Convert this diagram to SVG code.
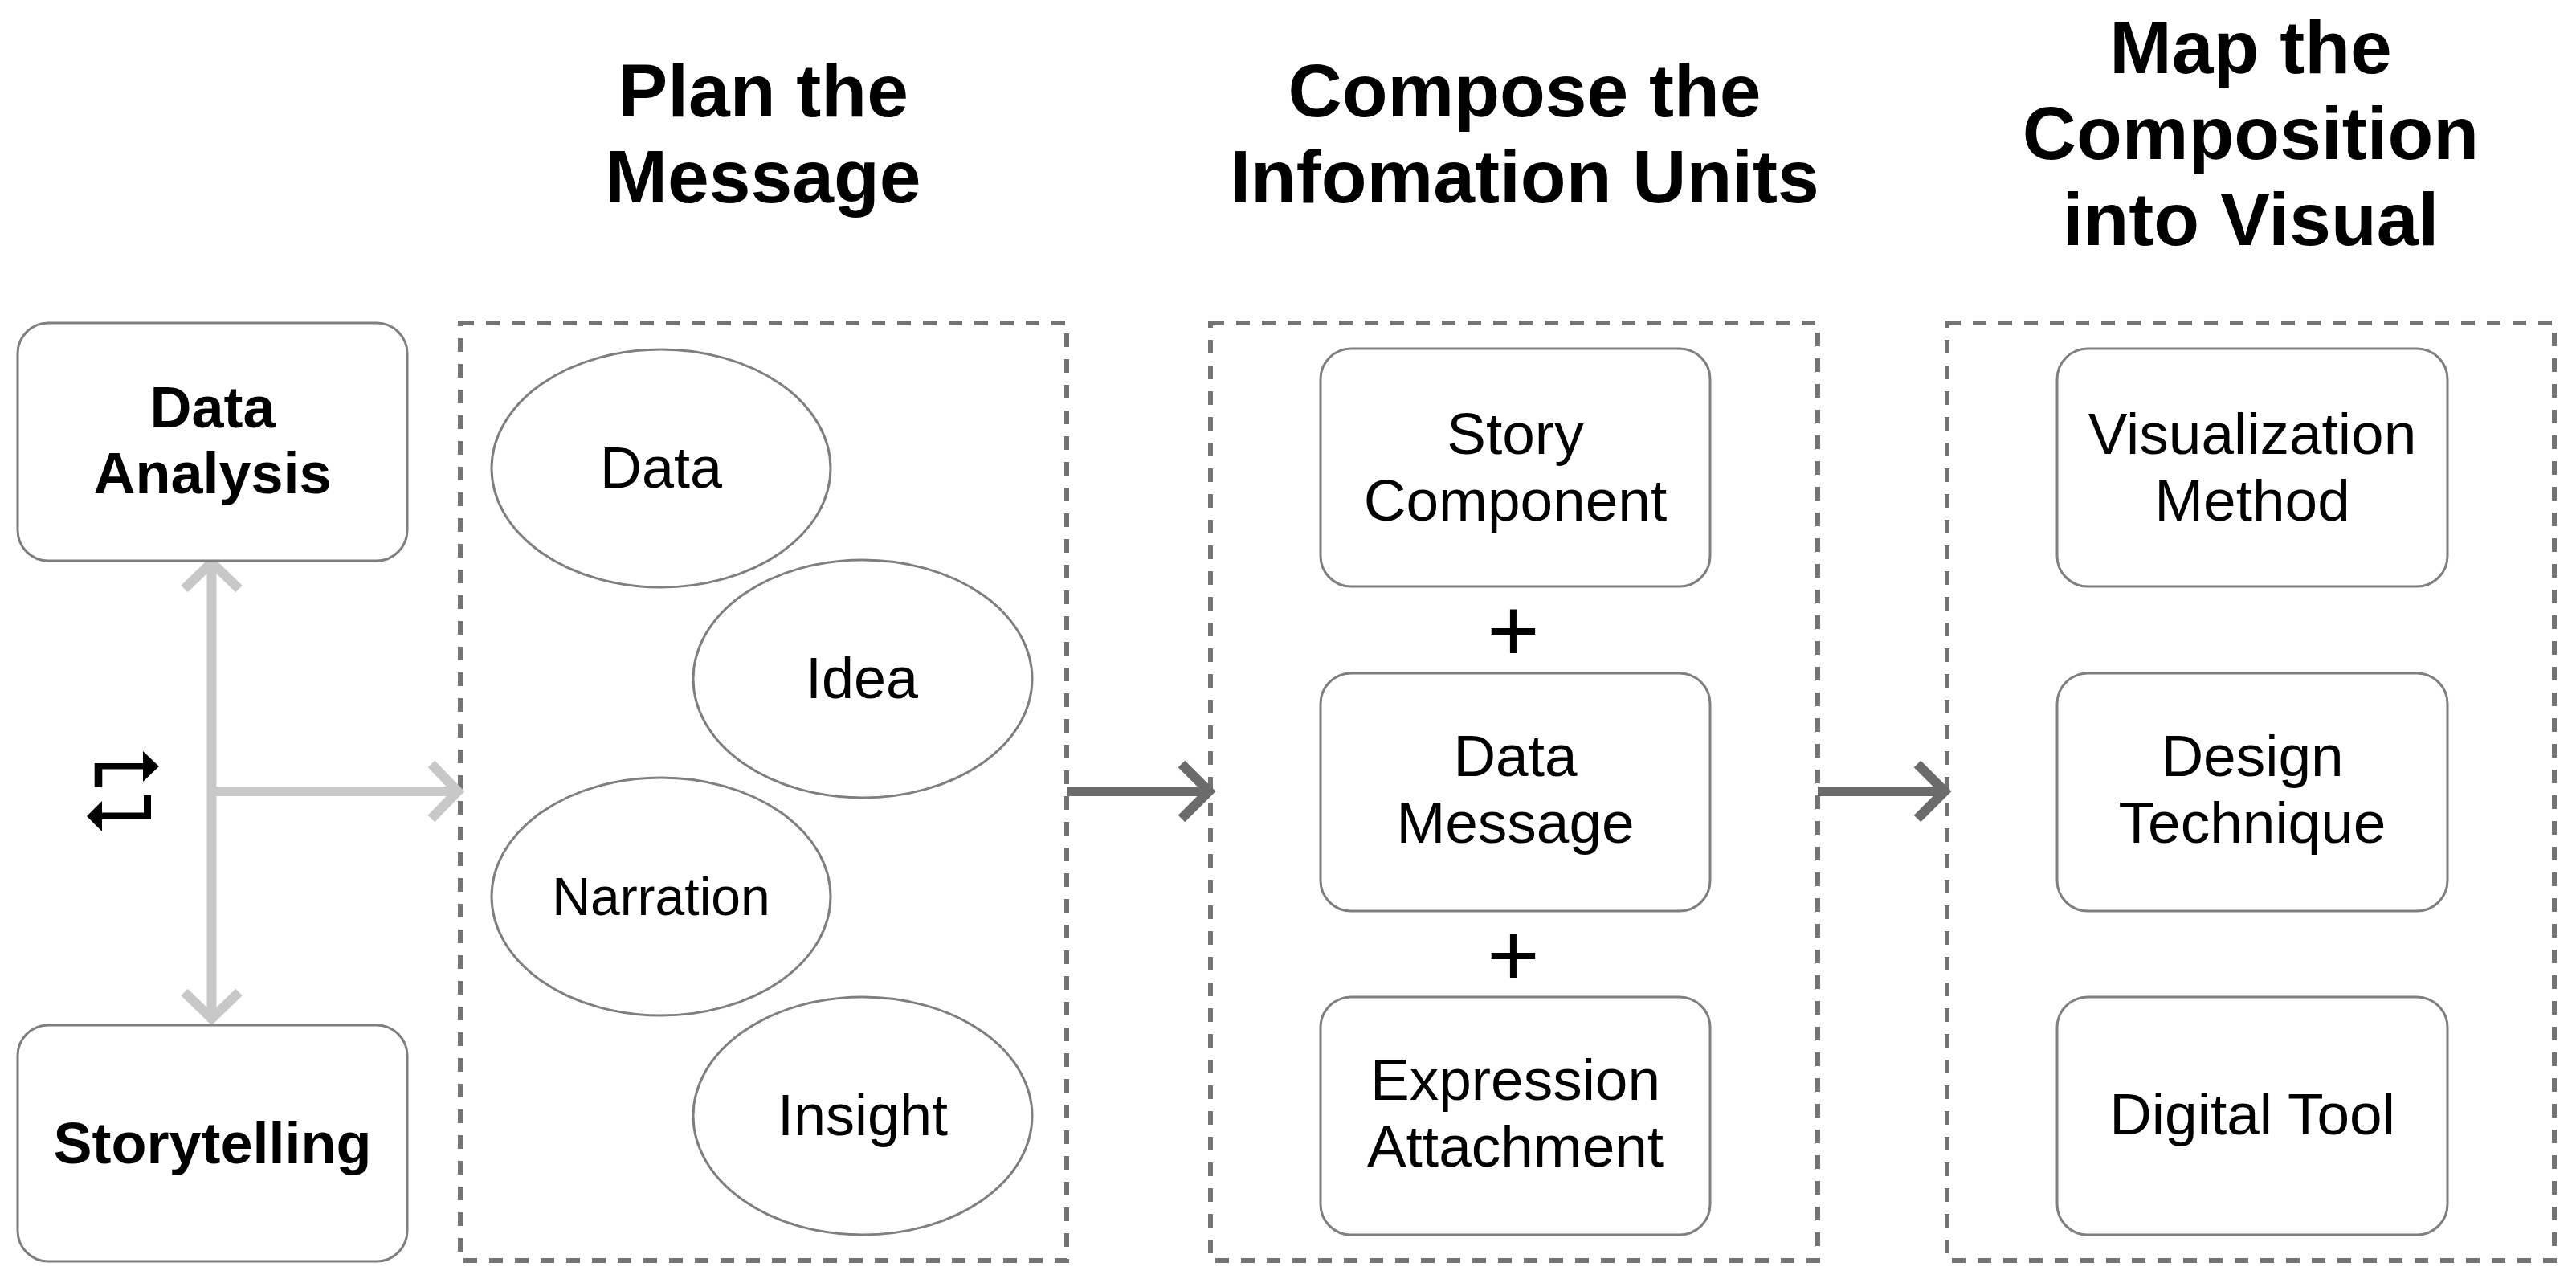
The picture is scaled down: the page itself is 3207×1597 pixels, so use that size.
<svg xmlns="http://www.w3.org/2000/svg" width="3207" height="1597" viewBox="0 0 3207 1597">
<style>
text{font-family:"Liberation Sans",Arial,sans-serif;fill:#000;text-anchor:middle}
.title{font-size:93px;font-weight:bold}
.bold{font-size:72px;font-weight:bold}
.lbl{font-size:73px}
.ell{font-size:72px}
.plus{font-size:112px}
.node{fill:#fff;stroke:#7f7f7f;stroke-width:3}
.stage{fill:none;stroke:#747474;stroke-width:6;stroke-dasharray:17 15}
.light{fill:none;stroke:#c8c8c8;stroke-width:12}
.dark{fill:none;stroke:#6b6b6b;stroke-width:12}
</style>
<defs>
<marker id="hl" viewBox="-50 -50 70 100" refX="0" refY="0" markerWidth="70" markerHeight="100" markerUnits="userSpaceOnUse" orient="auto-start-reverse" overflow="visible">
<path d="M-33,-34 L0,0 L-33,34" fill="none" stroke="#c8c8c8" stroke-width="12"/>
</marker>
<marker id="hd" viewBox="-50 -50 70 100" refX="0" refY="0" markerWidth="70" markerHeight="100" markerUnits="userSpaceOnUse" orient="auto" overflow="visible">
<path d="M-34,-34 L0,0 L-34,34" fill="none" stroke="#6b6b6b" stroke-width="12"/>
</marker>
</defs>
<rect width="3207" height="1597" fill="#fff"/>

<g id="titles">
<text class="title" x="950" y="145">Plan the</text>
<text class="title" x="950" y="252">Message</text>
<text class="title" x="1898" y="145">Compose the</text>
<text class="title" x="1898" y="252">Infomation Units</text>
<text class="title" x="2802" y="91">Map the</text>
<text class="title" x="2802" y="198">Composition</text>
<text class="title" x="2802" y="305">into Visual</text>
</g>

<g id="stages">
<rect id="stage-plan" class="stage" x="573" y="402" width="755" height="1167"/>
<rect id="stage-compose" class="stage" x="1507" y="402" width="756" height="1167"/>
<rect id="stage-map" class="stage" x="2424" y="402" width="756" height="1167"/>
</g>

<g id="connectors">
<line class="light" x1="263.5" y1="700" x2="263.5" y2="1268" marker-start="url(#hl)" marker-end="url(#hl)"/>
<line class="light" x1="263.5" y1="985" x2="570" y2="985" marker-end="url(#hl)"/>
<line class="dark" x1="1328" y1="985" x2="1505" y2="985" marker-end="url(#hd)"/>
<line class="dark" x1="2263" y1="985" x2="2421" y2="985" marker-end="url(#hd)"/>
</g>

<g id="swap-icon" fill="#000">
<path d="M117.7,980 V950 H178 V935 L198,954 L178,973 V957.5 H127.3 V980 Z"/>
<path d="M188,990 V1020 H127 V1035 L108,1016 L127,997 V1011.5 H179 V990 Z"/>
</g>

<g id="node-data-analysis">
<rect class="node" x="22" y="402" width="485" height="296" rx="38"/>
<text class="bold" x="264.5" y="532">Data</text>
<text class="bold" x="264.5" y="614">Analysis</text>
</g>
<g id="node-storytelling">
<rect class="node" x="22" y="1276" width="485" height="294" rx="38"/>
<text class="bold" x="264.5" y="1448">Storytelling</text>
</g>

<g id="node-data">
<ellipse class="node" cx="823" cy="583" rx="211" ry="148"/>
<text class="ell" x="823" y="607">Data</text>
</g>
<g id="node-idea">
<ellipse class="node" cx="1074" cy="845" rx="211" ry="148"/>
<text class="ell" x="1073" y="869">Idea</text>
</g>
<g id="node-narration">
<ellipse class="node" cx="823" cy="1116" rx="211" ry="148"/>
<text class="ell" x="823" y="1139" style="font-size:66px">Narration</text>
</g>
<g id="node-insight">
<ellipse class="node" cx="1074" cy="1389" rx="211" ry="148"/>
<text class="ell" x="1074" y="1413">Insight</text>
</g>

<g id="node-story-component">
<rect class="node" x="1644" y="434" width="485" height="296" rx="38"/>
<text class="lbl" x="1886.5" y="565">Story</text>
<text class="lbl" x="1886.5" y="648">Component</text>
</g>
<g id="plus-1"><text class="plus" x="1884" y="823">+</text></g>
<g id="node-data-message">
<rect class="node" x="1644" y="838" width="485" height="296" rx="38"/>
<text class="lbl" x="1886.5" y="966">Data</text>
<text class="lbl" x="1886.5" y="1049">Message</text>
</g>
<g id="plus-2"><text class="plus" x="1884" y="1227">+</text></g>
<g id="node-expression-attachment">
<rect class="node" x="1644" y="1241" width="485" height="296" rx="38"/>
<text class="lbl" x="1886.5" y="1369">Expression</text>
<text class="lbl" x="1886.5" y="1452">Attachment</text>
</g>

<g id="node-visualization-method">
<rect class="node" x="2561" y="434" width="486" height="296" rx="38"/>
<text class="lbl" x="2804" y="565">Visualization</text>
<text class="lbl" x="2804" y="648">Method</text>
</g>
<g id="node-design-technique">
<rect class="node" x="2561" y="838" width="486" height="296" rx="38"/>
<text class="lbl" x="2804" y="966">Design</text>
<text class="lbl" x="2804" y="1049">Technique</text>
</g>
<g id="node-digital-tool">
<rect class="node" x="2561" y="1241" width="486" height="296" rx="38"/>
<text class="lbl" x="2804" y="1412">Digital Tool</text>
</g>
</svg>
